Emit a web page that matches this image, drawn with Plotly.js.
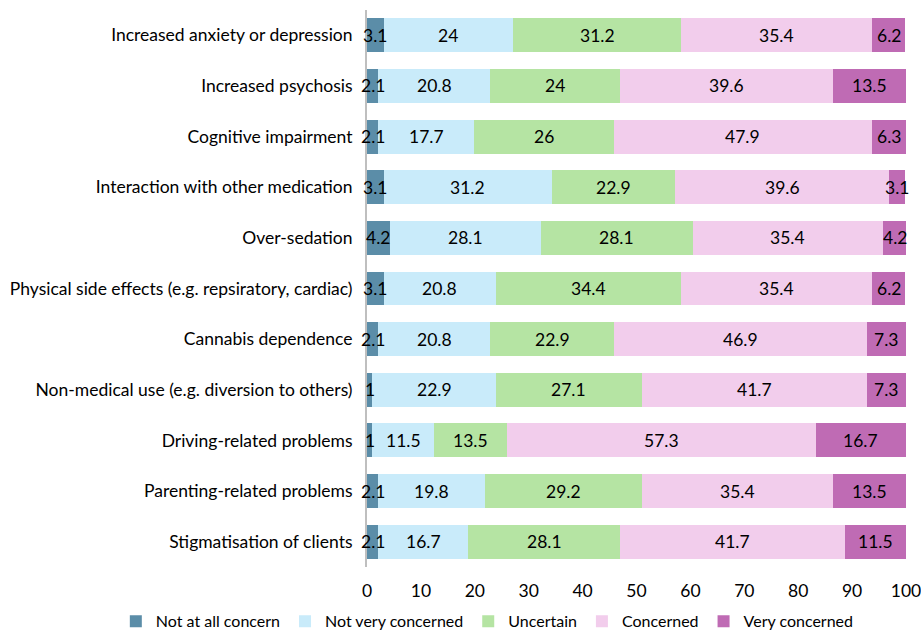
<!DOCTYPE html>
<html><head><meta charset="utf-8">
<script src="https://cdn.plot.ly/plotly-3.0.1.min.js"></script>
<style>html,body{margin:0;padding:0;background:#fff}#c{width:921px;height:632px}</style>
</head><body><div id="c"></div>
<script>
const categories = [
  "Increased anxiety or depression",
  "Increased psychosis",
  "Cognitive impairment",
  "Interaction with other medication",
  "Over-sedation",
  "Physical side effects (e.g. repsiratory, cardiac)",
  "Cannabis dependence",
  "Non-medical use (e.g. diversion to others)",
  "Driving-related problems",
  "Parenting-related problems",
  "Stigmatisation of clients"
];
const seriesNames = ["Not at all concern","Not very concerned","Uncertain","Concerned","Very concerned"];
const notAtAll   = [3.1, 2.1, 2.1, 3.1, 4.2, 3.1, 2.1, 1, 1, 2.1, 2.1];
const notVery    = [24, 20.8, 17.7, 31.2, 28.1, 20.8, 20.8, 22.9, 11.5, 19.8, 16.7];
const uncertain  = [31.2, 24, 26, 22.9, 28.1, 34.4, 22.9, 27.1, 13.5, 29.2, 28.1];
const concerned  = [35.4, 39.6, 47.9, 39.6, 35.4, 35.4, 46.9, 41.7, 57.3, 35.4, 41.7];
const veryConc   = [6.2, 13.5, 6.3, 3.1, 4.2, 6.2, 7.3, 7.3, 16.7, 13.5, 11.5];
const xTicks = [0,10,20,30,40,50,60,70,80,90,100];

const colors = ["#5b8da8","#c9ebfa","#b5e4a3","#f2cdec","#bf6bb4"];
const allSeries = [notAtAll, notVery, uncertain, concerned, veryConc];
const FS = 17.5;
const font = {family:"Lato, 'Open Sans', sans-serif", size:FS, color:"#000"};

const traces = allSeries.map((vals,i)=>({
  type:"bar", orientation:"h", name:seriesNames[i],
  x:vals, y:categories,
  marker:{color:colors[i]},
  hoverinfo:"x+name"
}));

// value labels centred on each segment, positioned through the axes
const annotations = [];
categories.forEach((cat,r)=>{
  let cum = 0;
  allSeries.forEach((vals)=>{
    const v = vals[r];
    annotations.push({x:cum+v/2, y:cat, xref:"x", yref:"y", text:String(v), showarrow:false,
      font:{family:font.family,size:FS,color:"#000"}, xanchor:"center", yanchor:"middle"});
    cum += v;
  });
});

Plotly.newPlot("c", traces, {
  width:921, height:632, barmode:"stack", bargap:0.33,
  margin:{l:367, r:15, t:10, b:65, autoexpand:false},
  font:font, paper_bgcolor:"#fff", plot_bgcolor:"#fff",
  annotations:annotations,
  xaxis:{range:[0,100], tickvals:xTicks, ticktext:xTicks.map(String), showgrid:false, zeroline:false,
         showline:false, ticks:"", tickfont:{size:FS}, fixedrange:true, ticklabeloverflow:"allow",
         ticklabelstandoff:11},
  yaxis:{autorange:"reversed", showgrid:false, showline:true, linecolor:"#bfbfbf", linewidth:2,
         ticks:"", ticksuffix:"  ", tickfont:{size:FS}},
  legend:{orientation:"h", xref:"paper", x:-0.466, xanchor:"left", yref:"paper", y:-0.067, yanchor:"top",
          font:{size:16}, traceorder:"normal", itemwidth:30, tracegroupgap:0},
  showlegend:true
}, {displayModeBar:false, staticPlot:true});
</script></body></html>
